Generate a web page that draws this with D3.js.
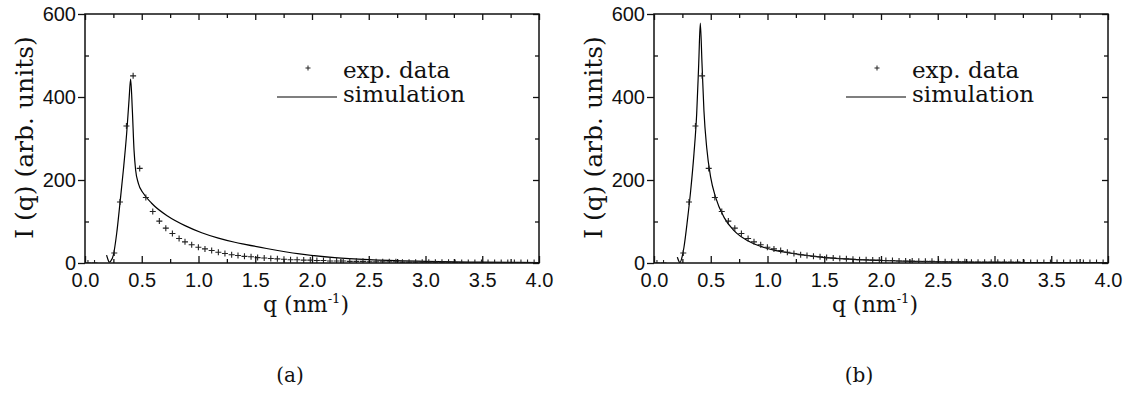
<!DOCTYPE html>
<html>
<head>
<meta charset="utf-8">
<script src="https://cdn.jsdelivr.net/npm/d3@7"></script>
<style>
  body { margin: 0; background: #fff; }
  svg { display: block; }
</style>
</head>
<body>
<div id="chart"></div>
<script>
// experimental data (same in both panels)
const expQ = [0.026, 0.084, 0.258, 0.308, 0.365, 0.424, 0.482, 0.536, 0.597, 0.655,
  0.712, 0.770, 0.829, 0.881, 0.940, 0.999, 1.057, 1.116, 1.175, 1.233,
  1.292, 1.348, 1.405, 1.463, 1.521, 1.579, 1.637, 1.695, 1.753, 1.811,
  1.869, 1.927, 1.985, 2.043, 2.101, 2.159, 2.217, 2.275, 2.333, 2.391,
  2.449, 2.507, 2.565, 2.623, 2.681, 2.739, 2.797, 2.855, 2.913, 2.971,
  3.029, 3.087, 3.145, 3.203, 3.261, 3.319, 3.377, 3.435, 3.493, 3.551,
  3.609, 3.667, 3.725, 3.783, 3.841, 3.899, 3.957];
const expI = [0, 0, 24, 147, 330, 451, 228, 158, 124, 101,
  84, 71, 59, 51, 44, 38, 34, 30, 26, 23,
  20, 18, 16, 15, 13, 12, 11, 10, 9, 8,
  8, 7, 7, 6, 6, 5, 5, 5, 4, 4,
  4, 3, 3, 3, 3, 3, 2, 2, 2, 2,
  2, 2, 2, 2, 1, 1, 1, 1, 1, 1,
  1, 1, 1, 1, 1, 1, 1];

// simulation (a)
const simAQ = [0.190, 0.203, 0.213, 0.225, 0.250, 0.279, 0.308, 0.338, 0.367, 0.388,
  0.402, 0.417, 0.432, 0.446, 0.470, 0.514, 0.587, 0.734, 0.881, 1.028,
  1.175, 1.320, 1.410, 1.600, 1.890, 2.200, 2.500, 3.000, 3.500, 4.000];
const simAI = [19, 8, 2, 4, 19, 71, 144, 224, 312, 393,
  443, 369, 272, 224, 192, 168, 144, 112, 90, 73,
  60, 50, 45, 35, 22, 13, 8, 4, 2, 1];

// simulation (b)
const simBQ = [0.206, 0.218, 0.229, 0.245, 0.264, 0.294, 0.323, 0.352, 0.376, 0.394,
  0.408, 0.423, 0.440, 0.464, 0.499, 0.543, 0.617, 0.705, 0.822, 0.940,
  1.057, 1.175, 1.292, 1.410, 1.600, 1.800, 2.000, 2.500, 3.000, 3.500, 4.000];
const simBI = [14, 5, 1, 12, 38, 102, 174, 263, 359, 480,
  578, 480, 367, 279, 207, 158, 110, 78, 54, 40,
  31, 25, 20, 16, 11, 8, 6, 3, 1.5, 1, 0.5];

// ticks
const xMajor = [0, 0.5, 1, 1.5, 2, 2.5, 3, 3.5, 4];
const xMinor = [0.25, 0.75, 1.25, 1.75, 2.25, 2.75, 3.25, 3.75];
const yMajor = [0, 200, 400, 600];
const yMinor = [100, 300, 500];

const legendLabels = ['exp. data', 'simulation'];
const captions = ['(a)', '(b)'];

const W = 1134, H = 394;
const serif = '"DejaVu Serif", serif';
const sans = '"Liberation Sans", Arial, sans-serif';

const svg = d3.select('#chart').append('svg').attr('width', W).attr('height', H);

const expData = d3.zip(expQ, expI);

function drawPanel(idx, left, simQ, simI) {
  const pw = 454, top = 14, ph = 249;
  const x = d3.scaleLinear().domain([0, 4]).range([0, pw]);
  const y = d3.scaleLinear().domain([0, 600]).range([ph, 0]);

  const g = svg.append('g').attr('transform', `translate(${left},${top})`);

  g.append('clipPath').attr('id', 'clip' + idx)
    .append('rect').attr('width', pw).attr('height', ph);

  const plot = g.append('g').attr('clip-path', `url(#clip${idx})`);

  // simulation line
  const line = d3.line().x(d => x(d[0])).y(d => y(d[1])).curve(d3.curveMonotoneX);
  plot.append('path')
    .datum(d3.zip(simQ, simI))
    .attr('d', line)
    .attr('fill', 'none')
    .attr('stroke', '#000')
    .attr('stroke-width', 1.2);

  // exp crosses
  const c = 3;
  plot.selectAll('.cross')
    .data(expData)
    .join('path')
    .attr('class', 'cross')
    .attr('d', d => `M${x(d[0]) - c},${y(d[1])}h${2 * c}M${x(d[0])},${y(d[1]) - c}v${2 * c}`)
    .attr('stroke', '#222')
    .attr('stroke-width', 1.1)
    .attr('fill', 'none');

  // axes
  const styleAxis = sel => {
    sel.select('.domain').remove();
    sel.selectAll('line').attr('stroke', '#111').attr('stroke-width', 1.3);
    sel.selectAll('text').attr('fill', '#111').style('font-family', sans).style('font-size', '20px');
  };

  g.append('g').attr('transform', `translate(0,${ph})`)
    .call(d3.axisBottom(x).tickValues(xMajor).tickSize(-7).tickPadding(10).tickFormat(d3.format('.1f')))
    .call(styleAxis);
  g.append('g').attr('transform', `translate(0,${ph})`)
    .call(d3.axisBottom(x).tickValues(xMinor).tickSize(-4).tickFormat(''))
    .call(styleAxis);
  g.append('g')
    .call(d3.axisTop(x).tickValues(xMajor).tickSize(-6).tickFormat(''))
    .call(styleAxis);
  g.append('g')
    .call(d3.axisTop(x).tickValues(xMinor).tickSize(-4).tickFormat(''))
    .call(styleAxis);
  g.append('g')
    .call(d3.axisLeft(y).tickValues(yMajor).tickSize(7).tickPadding(2).tickFormat(d3.format('d')))
    .call(styleAxis);
  g.append('g')
    .call(d3.axisLeft(y).tickValues(yMinor).tickSize(-4).tickFormat(''))
    .call(styleAxis);
  g.append('g').attr('transform', `translate(${pw},0)`)
    .call(d3.axisRight(y).tickValues(yMajor).tickSize(-6).tickFormat(''))
    .call(styleAxis);
  g.append('g').attr('transform', `translate(${pw},0)`)
    .call(d3.axisRight(y).tickValues(yMinor).tickSize(-4).tickFormat(''))
    .call(styleAxis);

  // frame
  g.append('rect').attr('width', pw).attr('height', ph)
    .attr('fill', 'none').attr('stroke', '#111').attr('stroke-width', 1.5);

  // legend
  const lg = g.append('g').attr('transform', `translate(${192},${0})`);
  lg.append('path')
    .attr('d', `M${31 - 2.5},54h5M31,${54 - 2.5}v5`)
    .attr('stroke', '#222').attr('stroke-width', 1);
  lg.append('line')
    .attr('x1', 0).attr('x2', 60).attr('y1', 83).attr('y2', 83)
    .attr('stroke', '#000').attr('stroke-width', 1.2);
  lg.selectAll('text')
    .data(legendLabels)
    .join('text')
    .attr('x', 66)
    .attr('y', (d, i) => 64 + i * 24)
    .style('font-family', serif)
    .style('font-size', '23px')
    .attr('fill', '#111')
    .text(d => d);

  // axis titles
  const xt = g.append('text')
    .attr('x', pw / 2 - 6)
    .attr('y', ph + 49)
    .attr('text-anchor', 'middle')
    .style('font-family', serif)
    .style('font-size', '22px')
    .attr('fill', '#111');
  xt.append('tspan').text('q (nm');
  xt.append('tspan').attr('dy', -9).style('font-size', '13px').text('-1');
  xt.append('tspan').attr('dy', 9).text(')');

  g.append('text')
    .attr('transform', `translate(${-52},${ph / 2 - 1}) rotate(-90)`)
    .attr('text-anchor', 'middle')
    .style('font-family', serif)
    .style('font-size', '25px')
    .attr('fill', '#111')
    .text('I (q) (arb. units)');

  // caption
  g.append('text')
    .attr('x', pw / 2 - 22)
    .attr('y', 368)
    .attr('text-anchor', 'middle')
    .style('font-family', serif)
    .style('font-size', '20px')
    .attr('fill', '#111')
    .text(captions[idx]);
}

drawPanel(0, 85, simAQ, simAI);
drawPanel(1, 654, simBQ, simBI);
</script>
</body>
</html>
